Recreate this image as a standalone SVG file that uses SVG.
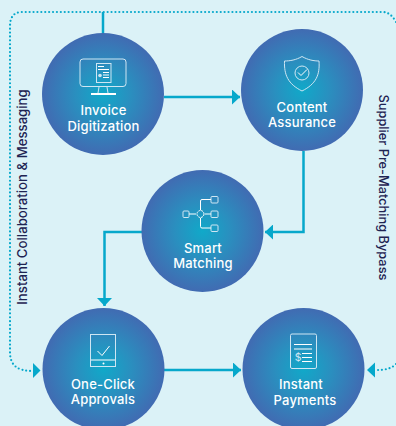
<svg xmlns="http://www.w3.org/2000/svg" width="396" height="426" viewBox="0 0 396 426">
<defs>
<radialGradient id="g" cx="50%" cy="50%" r="50%"><stop offset="0" stop-color="#10a9c9"/><stop offset="0.45" stop-color="#2a8fbf"/><stop offset="1" stop-color="#416bb2"/></radialGradient>
<marker id="ah" markerUnits="userSpaceOnUse" markerWidth="10" markerHeight="15" refX="8" refY="7.500" orient="auto"><path d="M0 0L8 7.500L0 15Z" fill="#06a8cb"/></marker>
</defs>
<style>
.c{fill:url(#g)}
.l{font-family:Inter,"Liberation Sans",sans-serif;font-size:13px;font-weight:500;fill:#fff;text-anchor:middle;letter-spacing:.2px}
.s{font-family:Inter,"Liberation Sans",sans-serif;font-weight:500;fill:#1e2352;text-anchor:middle}
.f{fill:none;stroke:#06a8cb;stroke-width:2.500}
.d{fill:none;stroke:#06a8cb;stroke-width:2.200;stroke-dasharray:0 3.900;stroke-linecap:round}
.i{fill:none;stroke:#cfe6f3;stroke-width:1}
.w{fill:none;stroke:#fff;stroke-width:1}
</style>
<rect width="396" height="426" fill="#dbf2f7"/>
<g id="connectors">
<path class="d" d="M396 22C392 15 388 12 382 12H22C14 12 10 17 10 26V352C10 366 18 371 33 371"/>
<path class="d" d="M396 364C391 369 385 370 376 370"/>
<path d="M33 363L40.500 370.500L33 378Z" fill="#06a8cb"/>
<path d="M375 362.500L367 370L375 377.500Z" fill="#06a8cb"/>
<path class="f" d="M103 12V33"/>
<path class="f" d="M164 97H240" marker-end="url(#ah)"/>
<path class="f" d="M303.500 151V232H265" marker-end="url(#ah)"/>
<path class="f" d="M142 232H104.500V306" marker-end="url(#ah)"/>
<path class="f" d="M164 370H241" marker-end="url(#ah)"/>
</g>
<g id="invoice">
<circle class="c" cx="103" cy="94" r="61"/>
<rect class="i" x="80" y="59" width="46" height="27.500" rx="3"/>
<path class="i" d="M99 87L98 93M107 87L108 93"/>
<path d="M91 94H116" stroke="#fff" stroke-width="2"/>
<rect class="i" x="96.500" y="63.500" width="14.500" height="19"/>
<path class="w" d="M98 66.500H104M98 69.500H109M103 72.500H109M103 75H109M103 77.500H109"/>
<circle cx="100" cy="75.500" r="1.800" fill="#cfe6f3"/>
<text class="l"><tspan x="103.500" y="115">Invoice</tspan><tspan x="103.500" y="131">Digitization</tspan></text>
</g>
<g id="content">
<circle class="c" cx="302" cy="90" r="61"/>
<path class="i" d="M302 56.500C296 60 290 61 284.500 61C284 75 288 84 302 91C316 84 320 75 319 61C314 61 308 60 302 56.500Z"/>
<circle class="i" cx="302" cy="73" r="7"/>
<path class="w" d="M298 72.500L301 75.500L307 69.500"/>
<text class="l"><tspan x="302" y="112">Content</tspan><tspan x="302" y="127">Assurance</tspan></text>
</g>
<g id="smart">
<circle class="c" cx="202.500" cy="231" r="61"/>
<g class="i"><rect x="183" y="211" width="6" height="6.500" rx="1"/><rect x="211" y="196.500" width="7" height="6.500" rx="1"/><rect x="211" y="211" width="7" height="6.500" rx="1"/><rect x="211" y="225" width="7" height="6.500" rx="1"/></g>
<circle class="w" cx="200.500" cy="214" r="3.500" stroke-dasharray="2 .8"/>
<path class="w" d="M189 214H196M205 214H211M200.500 210V201Q200.500 199.500 202 199.500H211M200.500 218V226.500Q200.500 228 202 228H211"/>
<text class="l"><tspan x="203" y="253">Smart</tspan><tspan x="203" y="268">Matching</tspan></text>
</g>
<g id="approvals">
<circle class="c" cx="103.500" cy="369" r="61"/>
<rect class="i" x="90.500" y="334.500" width="25" height="32"/>
<path class="w" d="M91 360H115M97.500 351L102 355.500L109.500 346"/>
<circle cx="103.500" cy="363.500" r="1" fill="#fff"/>
<text class="l"><tspan x="103" y="389">One-Click</tspan><tspan x="103" y="404">Approvals</tspan></text>
</g>
<g id="payments">
<circle class="c" cx="303.500" cy="369" r="61"/>
<rect class="i" x="290.500" y="334" width="26" height="34.500" rx="1.500"/>
<path class="w" d="M294 344.500H312M294 349H312M302 353.500H312M302 357.500H312M302 361.500H312"/>
<text x="298" y="360.500" font-family="Inter,'Liberation Sans',sans-serif" font-size="10.500" fill="#cfe6f3" text-anchor="middle">$</text>
<text class="l"><tspan x="301" y="389">Instant</tspan><tspan x="305" y="405">Payments</tspan></text>
</g>
<g id="side-labels">
<text class="s" font-size="13.200" transform="translate(27 197) rotate(-90)">Instant Collaboration &amp; Messaging</text>
<text class="s" font-size="12.800" transform="translate(379 187.500) rotate(90)">Supplier Pre-Matching Bypass</text>
</g>
</svg>
